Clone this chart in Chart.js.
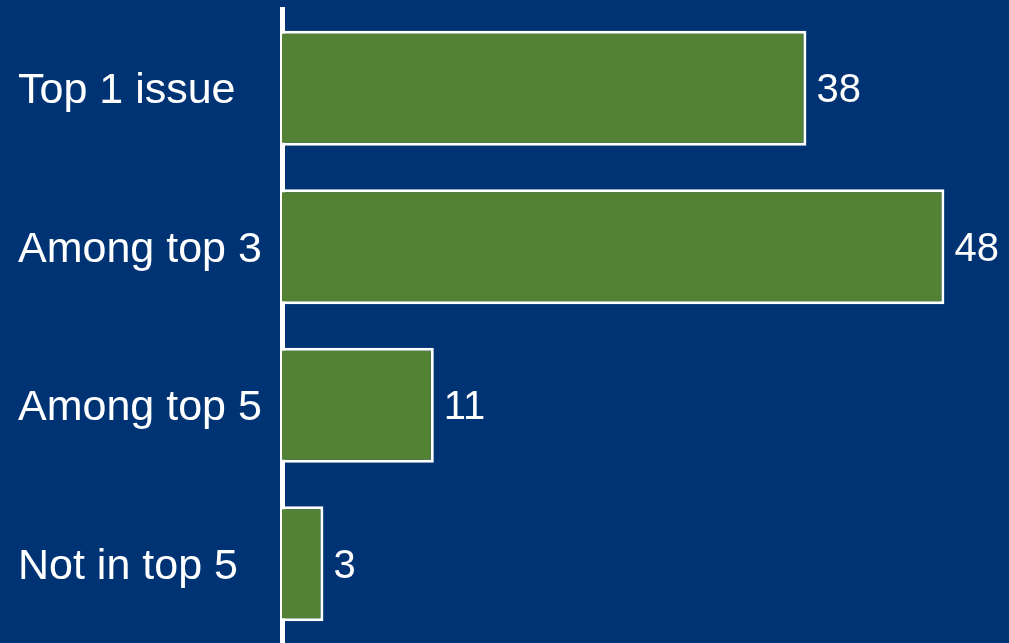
<!DOCTYPE html>
<html>
<head>
<meta charset="utf-8">
<script src="https://cdn.jsdelivr.net/npm/chart.js@4"></script>
<style>
  html, body { margin: 0; padding: 0; background: #003374; }
  canvas { display: block; }
</style>
</head>
<body>
<canvas id="myChart" width="1009" height="643"></canvas>
<script>
const categories = ['Top 1 issue', 'Among top 3', 'Among top 5', 'Not in top 5'];
const shares = [38, 48, 11, 3];

const bgColor = '#003374';
const barColor = '#548235';

// fills the canvas and writes the value next to each bar
const paintPlugin = {
  id: 'paint',
  beforeDraw(chart) {
    const ctx = chart.ctx;
    ctx.save();
    ctx.fillStyle = bgColor;
    ctx.fillRect(0, 0, chart.width, chart.height);
    ctx.restore();
  },
  afterDatasetsDraw(chart) {
    const ctx = chart.ctx;
    const meta = chart.getDatasetMeta(0);
    ctx.save();
    ctx.fillStyle = '#ffffff';
    ctx.font = '40px "Liberation Sans", Arial, sans-serif';
    ctx.textAlign = 'left';
    ctx.textBaseline = 'middle';
    meta.data.forEach((bar, i) => {
      ctx.fillText(String(shares[i]), bar.x + 10, bar.y + 3);
    });
    ctx.restore();
  },
};

const ctx = document.getElementById('myChart').getContext('2d');
const chart = new Chart(ctx, {
  type: 'bar',
  data: {
    labels: categories,
    datasets: [
      {
        data: shares,
        backgroundColor: barColor,
        borderColor: '#ffffff',
        borderWidth: 3,
        borderSkipped: 'start',
        barPercentage: 0.725,
        categoryPercentage: 1,
      },
    ],
  },
  options: {
    indexAxis: 'y',
    responsive: false,
    animation: false,
    layout: {
      padding: { left: 18, right: 37, top: 9, bottom: 0 },
    },
    plugins: {
      legend: { display: false },
      tooltip: { enabled: false },
    },
    scales: {
      x: {
        display: false,
        min: 0,
        max: 50,
      },
      y: {
        grid: { display: false, drawTicks: false },
        border: { display: true, color: '#ffffff', width: 5 },
        ticks: {
          color: '#ffffff',
          crossAlign: 'far',
          padding: 0,
          labelOffset: 3,
          font: { family: '"Liberation Sans", Arial, sans-serif', size: 43 },
        },
        afterFit(scale) {
          scale.width = 264;
          scale.paddingTop = 0;
          scale.paddingBottom = 0;
        },
      },
    },
  },
  plugins: [paintPlugin],
});
</script>
</body>
</html>
